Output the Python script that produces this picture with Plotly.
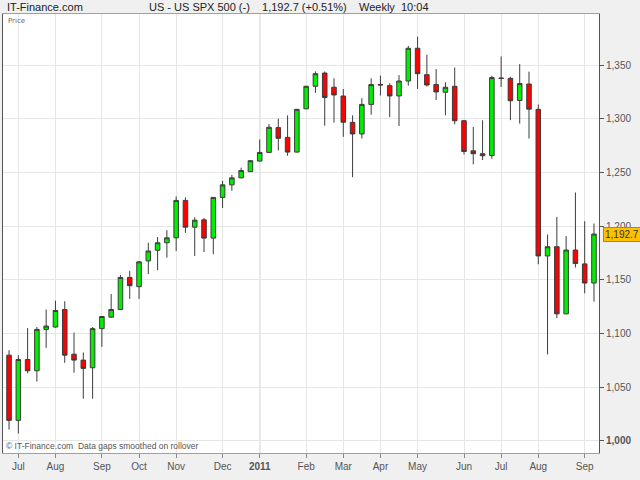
import pandas as pd
import plotly.graph_objects as go

# weekly bars, S&P 500, week starting dates (Mondays)
weeks = pd.date_range("2010-06-28", periods=64, freq="W-MON")

opens = [1079.9, 1019.2, 1075.9, 1065.4, 1103.9, 1106.1, 1122.4, 1080.8, 1075.3, 1068.2,
         1104.6, 1115.3, 1122.4, 1152.3, 1143.7, 1167.7, 1177.6, 1184.6, 1189.2, 1224.0,
         1199.1, 1205.9, 1188.9, 1226.8, 1238.5, 1245.0, 1250.8, 1260.7, 1268.7, 1291.8,
         1282.7, 1269.0, 1309.3, 1330.3, 1342.6, 1329.4, 1321.2, 1296.7, 1285.9, 1313.4,
         1332.0, 1330.9, 1321.3, 1335.2, 1365.7, 1341.1, 1331.9, 1324.7, 1330.3, 1298.2,
         1270.2, 1267.5, 1265.8, 1338.0, 1337.7, 1317.1, 1332.4, 1308.8, 1172.3, 1180.9,
         1118.4, 1177.8, 1164.9, 1147.1]
highs = [1084.5, 1079.9, 1105.1, 1106.1, 1122.4, 1130.7, 1130.1, 1100.9, 1082.4, 1106.1,
         1116.2, 1136.9, 1154.5, 1158.4, 1167.7, 1184.6, 1189.9, 1196.3, 1227.7, 1226.8,
         1208.3, 1207.7, 1227.0, 1242.2, 1247.8, 1254.5, 1261.5, 1280.7, 1295.2, 1300.1,
         1303.2, 1309.2, 1330.7, 1344.1, 1344.1, 1337.8, 1327.8, 1303.2, 1319.2, 1337.7,
         1340.2, 1333.1, 1340.7, 1367.9, 1376.5, 1359.6, 1346.3, 1334.0, 1347.8, 1299.0,
         1292.4, 1298.6, 1340.2, 1358.0, 1339.2, 1350.9, 1343.9, 1313.4, 1192.3, 1208.6,
         1190.8, 1231.4, 1204.6, 1202.5]
lows = [1010.6, 1006.9, 1063.0, 1055.3, 1086.7, 1105.5, 1072.8, 1063.6, 1039.3, 1039.3,
        1087.6, 1114.7, 1122.0, 1132.3, 1132.3, 1155.4, 1159.1, 1170.7, 1176.9, 1193.8,
        1172.3, 1176.0, 1173.9, 1216.9, 1233.0, 1244.5, 1250.5, 1260.3, 1268.3, 1270.5,
        1265.6, 1268.6, 1309.0, 1324.1, 1293.6, 1296.4, 1283.2, 1245.6, 1281.6, 1303.8,
        1321.7, 1301.6, 1293.3, 1330.9, 1327.8, 1330.0, 1317.6, 1303.2, 1294.9, 1266.8,
        1257.6, 1261.6, 1262.8, 1329.7, 1298.8, 1295.5, 1281.6, 1164.6, 1080.6, 1114.4,
        1118.0, 1161.5, 1137.5, 1129.8]
closes = [1019.2, 1075.9, 1065.4, 1103.9, 1107.0, 1121.5, 1079.9, 1075.3, 1067.6, 1104.6,
          1115.9, 1122.4, 1152.3, 1144.6, 1166.8, 1176.9, 1184.6, 1189.2, 1224.0, 1199.1,
          1205.6, 1188.9, 1226.8, 1238.5, 1245.0, 1251.8, 1261.0, 1268.7, 1292.1, 1281.9,
          1269.0, 1308.8, 1330.3, 1342.0, 1319.8, 1322.2, 1296.8, 1285.9, 1313.4, 1331.9,
          1331.5, 1321.3, 1335.2, 1365.7, 1342.0, 1331.5, 1325.0, 1329.4, 1298.2, 1269.6,
          1267.5, 1265.6, 1338.4, 1337.6, 1316.8, 1332.8, 1309.0, 1172.3, 1180.9, 1118.4,
          1177.8, 1165.2, 1147.1, 1192.7]

price_ticks = [1000, 1050, 1100, 1150, 1200, 1250, 1300, 1350]
month_names = {1: "Jan", 2: "Feb", 3: "Mar", 4: "Apr", 5: "May", 6: "Jun",
               7: "Jul", 8: "Aug", 9: "Sep", 10: "Oct", 11: "Nov", 12: "Dec"}

# ticks at first bar of each month (the chart starts in late June, so skip that)
s = pd.Series(weeks)
firsts = s.groupby([s.dt.year, s.dt.month]).first().tolist()[1:]
tick_text = []
for d in firsts:
    if d.month == 1:
        tick_text.append("<b>%d</b>" % d.year)
    else:
        tick_text.append(month_names[d.month])
year_start = [d for d in firsts if d.month == 1][0]

ytext = ["{:,}".format(v) for v in price_ticks]
ytext[0] = "<b>" + ytext[0] + "</b>"

fig = go.Figure()
fig.add_trace(go.Candlestick(
    x=weeks, open=opens, high=highs, low=lows, close=closes,
    increasing=dict(fillcolor="#00ee00", line=dict(color="#3c3c3c", width=1)),
    decreasing=dict(fillcolor="#ff0000", line=dict(color="#3c3c3c", width=1)),
    whiskerwidth=0, showlegend=False, hoverinfo="x+y",
))

week = pd.Timedelta(days=7)
fig.update_xaxes(
    type="date", range=[weeks[0] - 0.65 * week, weeks[-1] + 0.54 * week],
    tickvals=firsts, ticktext=tick_text, ticks="outside", ticklen=4, tickcolor="#888",
    tickfont=dict(family="Liberation Sans, Arial", size=10, color="#555"),
    showgrid=True, gridcolor="#e6e6e6", gridwidth=1,
    showline=True, linecolor="#a0a0a0", linewidth=1, mirror=True,
    rangeslider=dict(visible=False), zeroline=False,
)
fig.update_yaxes(
    side="right", range=[988.8, 1397.6],
    tickvals=price_ticks, ticktext=ytext, ticks="outside", ticklen=4, tickcolor="#555",
    tickfont=dict(family="Liberation Sans, Arial", size=10, color="#555"),
    showgrid=True, gridcolor="#e6e6e6", gridwidth=1,
    showline=True, linecolor="#555", linewidth=1, mirror=True, zeroline=False,
)

# start-of-year divider
fig.add_shape(type="line", xref="x", yref="paper", x0=year_start, x1=year_start,
              y0=0, y1=1, line=dict(color="#a8a8a8", width=1), layer="below")

hdr = dict(family="Liberation Sans, Arial", size=11, color="#222")
fig.add_annotation(text="IT-Finance.com", xref="paper", yref="paper", x=0, y=1,
                   xanchor="left", yanchor="bottom", xshift=2, yshift=-1,
                   showarrow=False, font=hdr)
fig.add_annotation(text="US - US SPX 500 (-)    1,192.7 (+0.51%)    Weekly  10:04",
                   xref="paper", yref="paper", x=0.48, y=1, xanchor="center",
                   yanchor="bottom", yshift=-1, showarrow=False, font=hdr)
fig.add_annotation(text="Price", xref="paper", yref="paper", x=0, y=1,
                   xanchor="left", yanchor="top", xshift=3, yshift=-1, showarrow=False,
                   font=dict(family="DejaVu Sans", size=7, color="#666"))
fig.add_annotation(text="\u00a9 IT-Finance.com  Data gaps smoothed on rollover",
                   xref="paper", yref="paper", x=0, y=0, xanchor="left",
                   yanchor="bottom", xshift=1, showarrow=False,
                   font=dict(family="Liberation Sans, Arial", size=8.5, color="#555"))
fig.add_annotation(text="{:,.1f}".format(closes[-1]), xref="paper", yref="y",
                   x=1, y=closes[-1], xanchor="left", xshift=4, showarrow=False,
                   bgcolor="#ffc000", bordercolor="#b08a00", borderwidth=1, borderpad=1,
                   font=dict(family="Liberation Sans, Arial", size=10, color="#333"))

fig.update_layout(
    width=640, height=480,
    margin=dict(l=3, r=41, t=14, b=27),
    paper_bgcolor="#f0f0f0", plot_bgcolor="#ffffff",
    showlegend=False,
)

fig.write_html("out.html", config={"displayModeBar": False},
               post_script="document.body.style.margin='0';")
